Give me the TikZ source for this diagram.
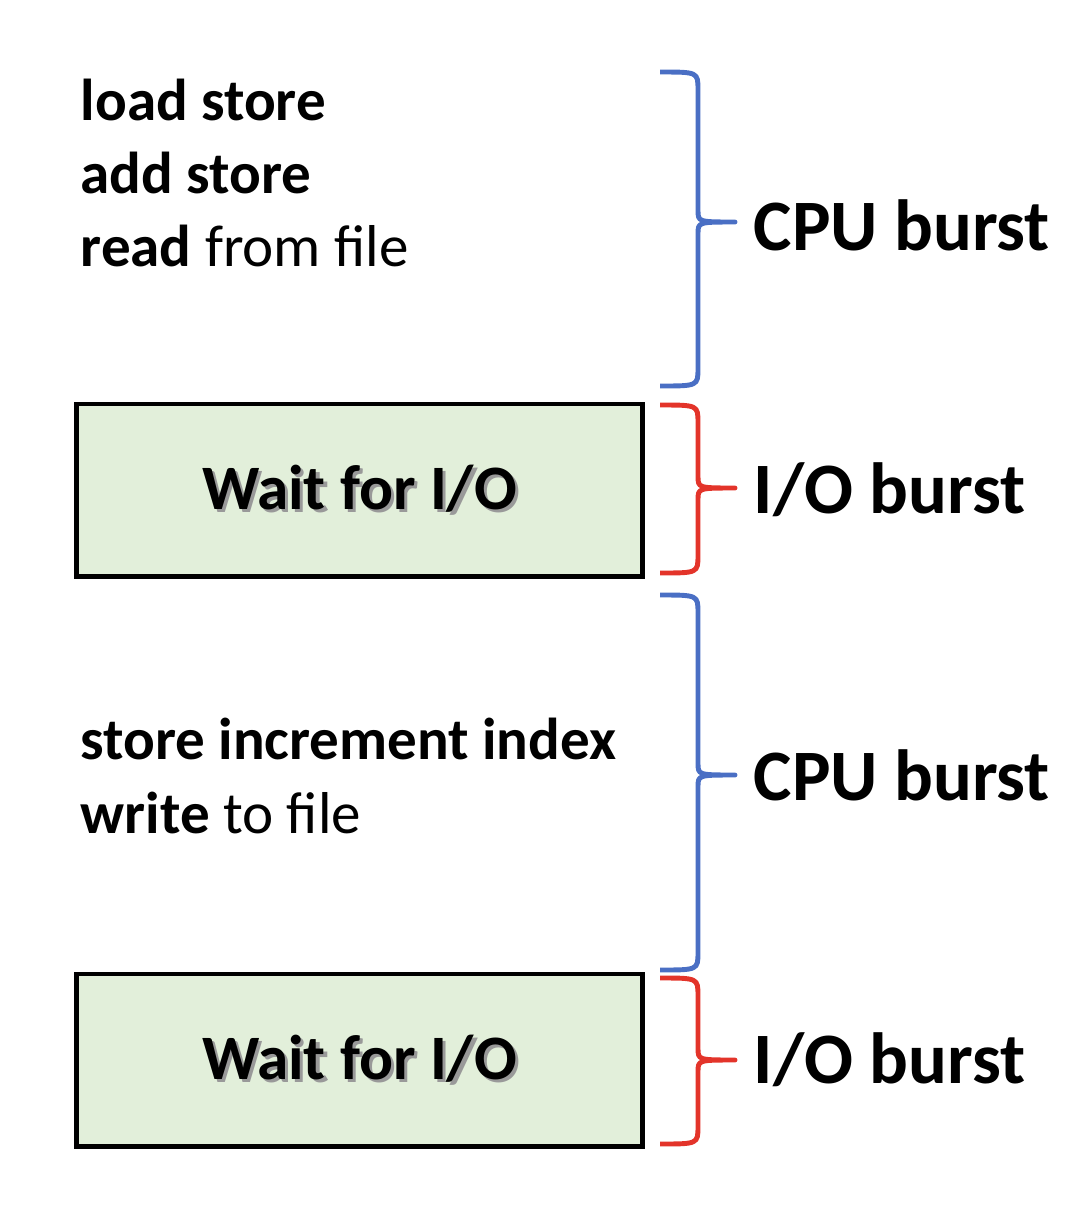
\documentclass[tikz,border=0pt]{standalone}
\usepackage{fontspec}
\setmainfont{Carlito}
\usetikzlibrary{positioning}
\definecolor{cpublue}{HTML}{4A6FC4}
\definecolor{iored}{HTML}{E3342A}
\definecolor{waitfill}{HTML}{E2EFDA}
% brace: colour, top, middle, bottom (y in px)
\newcommand{\burstbrace}[4]{%
  \draw[#1,line width=1.4pt,line join=round]
    (660,#2) .. controls (698,#2) .. (698,#2+18) -- (698,#3-12)
    .. controls (698,#3) .. (735,#3)
    .. controls (698,#3) .. (698,#3+12) -- (698,#4-18)
    .. controls (698,#4) .. (660,#4);}
\begin{document}
\begin{tikzpicture}[x=0.01cm,y=-0.01cm]
  \tikzstyle{code}=[anchor=west,font=\fontsize{16.8}{20.8}\selectfont,align=left,inner sep=0pt]
  \tikzstyle{wait}=[draw=black,line width=1.4pt,fill=waitfill,minimum width=5.65cm,
  			  minimum height=1.72cm,font=\bfseries\fontsize{18}{22}\selectfont]
  \tikzstyle{burst}=[anchor=west,font=\bfseries\fontsize{20.6}{25}\selectfont,inner sep=0pt]
  \useasboundingbox (0,0) rectangle (1072,1220);

  \node[code] (c1) at (80,173) {\textbf{load store}\\\textbf{add store}\\\textbf{read} from file};
  \node[wait] (w1) at (359.5,490) {\textcolor{black!40}{\rlap{\hspace{1pt}\raisebox{-1pt}{Wait for I/O}}}Wait for I/O};
  \node[code] (c2) at (80,776) {\textbf{store increment index}\\\textbf{write} to file};
  \node[wait] (w2) at (359.5,1060) {\textcolor{black!40}{\rlap{\hspace{1pt}\raisebox{-1pt}{Wait for I/O}}}Wait for I/O};

  \burstbrace{cpublue}{72}{222}{386}
  \burstbrace{iored}{405}{488}{573}
  \burstbrace{cpublue}{595}{775}{970}
  \burstbrace{iored}{978}{1060}{1144}

  \node[burst] (l1) at (753,225) {CPU burst};
  \node[burst] (l2) at (753,490) {I/O burst};
  \node[burst] (l3) at (753,775) {CPU burst};
  \node[burst] (l4) at (753,1060) {I/O burst};
\end{tikzpicture}
\end{document}
